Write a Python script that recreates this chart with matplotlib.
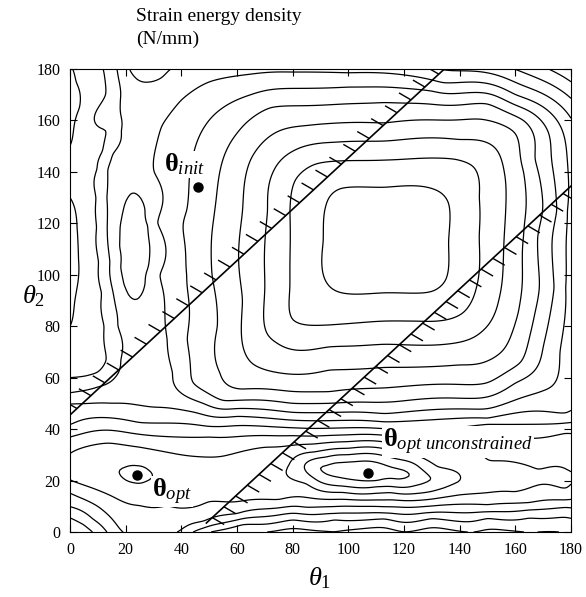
import numpy as np
import matplotlib.pyplot as plt
from matplotlib.collections import LineCollection

plt.rcParams['font.family'] = 'Liberation Serif'
plt.rcParams['mathtext.fontset'] = 'custom'
plt.rcParams['mathtext.rm'] = 'Liberation Serif'
plt.rcParams['mathtext.it'] = 'Liberation Serif:italic'
plt.rcParams['mathtext.bf'] = 'Liberation Serif:bold'

# points, (theta1, theta2); level index given in traces below
ring12 = [(91, 100), (91, 113), (92, 127), (97, 133.5), (113, 134), (130, 133.5), (136, 128),
          (136, 113), (135, 98), (130, 93.5), (113, 93), (96, 93.5)]
ring11 = [(80, 82.4), (79, 95), (79, 125), (81, 137), (88, 143), (113, 144.6), (138, 145),
          (145, 142), (147, 130), (147, 115), (146, 95), (141, 85), (125, 82), (113, 82),
          (93.4, 80.5), (85, 80.5)]
ring10 = [(70.8, 77), (70, 95), (71, 125), (73, 140), (80, 148), (95, 151.5), (113, 152),
          (140, 152.5), (152, 150), (156, 140), (156, 115), (154, 90), (148, 78), (135, 73),
          (113, 73), (93, 72), (74.4, 73.5)]
ring9 = [(63.6, 68), (62, 90), (62, 125), (65, 145), (72, 154), (85, 158), (113, 159),
         (150, 160), (160, 155), (163, 140), (163, 115), (161, 85), (155, 70), (140, 65),
         (113, 64), (93, 63), (68, 64)]
ring8 = [(54, 62), (53, 80), (51, 100), (52, 125), (55, 145), (60, 155), (72, 165), (113, 167),
         (150, 166.5), (163, 160), (167, 145), (168, 115), (167, 85), (162, 66), (150, 58),
         (113, 56), (93, 54.5), (61, 55.5)]
ring7 = [(44, 58), (42, 75), (42, 100), (42, 125), (44, 145), (48, 157), (55, 165), (65, 170),
         (100, 173), (130, 171.5), (160, 166), (172, 155), (175, 125), (174, 95), (170, 72),
         (160, 58), (140, 52), (113, 50.5), (80, 50), (55, 51)]
ring6 = [(37, 62), (35, 75), (34, 88), (32, 100), (31, 120), (30, 140), (33, 158), (40, 168),
         (50, 175), (65, 178), (80, 178.8), (100, 178.5), (134, 174.6), (160, 170), (175, 160),
         (178.6, 125), (178, 95), (176, 70), (170, 55), (150, 48), (113, 46), (80, 46.5),
         (60, 48), (48, 50), (40, 54)]
# two long vertical lines near the left edge
line_a7 = [(12, 180), (13, 170), (14.4, 157), (12, 148), (10, 141), (9.5, 130), (9.7, 118.6),
           (10.5, 105), (11.5, 93), (12.5, 80), (13.3, 67), (10, 62), (5, 60.5), (0, 60)]
line_b6 = [(17, 180), (18, 168), (18, 156), (15, 147), (13.3, 141), (13, 130), (13.3, 118.6),
           (14.5, 105), (15.5, 93), (17, 80), (18, 67), (16, 60), (10, 56.5), (0, 54)]
edge_loops8 = [(0, 80), (2.5, 95), (3, 106), (2.5, 118), (0, 130),
               (0, 150), (3.6, 165), (2, 175), (1, 180)]
ellipse5 = [(17.6, 111), (18, 119), (19.2, 125.5), (21, 130), (23.2, 132), (25.3, 130),
            (27.1, 125.5), (28.3, 119), (28.7, 111), (28.3, 103), (27.1, 96.5), (25.3, 92),
            (23.2, 90), (21, 92), (19.2, 96.5), (18, 103)]
line5 = [(113, 42.8), (80, 43.5), (60, 45), (45, 46.5), (30, 48.5), (15, 50), (0, 50),
         (150, 44), (178, 46),
         (21, 180), (24, 176), (28, 175), (33, 176.5), (36, 180),
         (0, 5.8), (5, 3), (8.3, 0), (50, 0), (62, 3), (80, 4.8), (95, 5.1), (113, 5.3),
         (130, 5.4), (150, 5.5), (165, 5.6), (178, 5.8)]
line4 = [(0, 41.5), (25, 42.5), (50, 41), (80, 40.5), (113, 40.2), (150, 42), (178, 42.4),
         (0, 9.7), (8, 5), (13.3, 0), (44, 0), (55, 3.5), (70, 6), (95, 7.0), (113, 7.3),
         (130, 7.5), (150, 7.8), (165, 8.6), (178, 9.7)]
line3 = [(0, 37), (25, 38), (50, 37), (80, 37.5), (113, 37.6), (150, 39), (178, 38.5),
         (0, 15.2), (10, 10), (18.7, 0), (39, 0), (48, 4), (60, 7), (85, 9.5), (113, 9.8),
         (130, 10.1), (150, 10.5), (165, 11.3), (178, 12.4)]
line2 = [(0, 30.5), (14, 34.6), (25, 33), (40, 30), (55, 29.5), (70, 33), (90, 34.5), (113, 35),
         (135, 31.5), (150, 27.5), (168, 24), (178, 22),
         (0, 20.2), (15, 14), (25, 10.5), (35, 10.5), (50, 12), (75, 12.5), (113, 12.4),
         (140, 14.5), (160, 15.5), (178, 16.5)]
ell1 = [(79, 26), (88, 31), (100, 32.5), (118, 31), (132, 25), (140, 19.5), (132, 16.5),
        (115, 15.5), (98, 15.5), (85, 19),
        (17.5, 23.5), (20, 25), (24, 25.5), (28, 24), (30, 21.5), (27, 19.8), (23, 19.5), (19, 21)]
ell0 = [(84, 26), (92, 29), (100, 30), (115, 29), (126, 24.5), (131, 20.5), (124, 18.2),
        (110, 17.8), (96, 18), (87, 21.5)]
ell_m1 = [(89, 25.5), (95, 27), (100, 27.3), (112, 26.5), (120, 24), (123, 22), (118, 20.3),
          (110, 19.7), (100, 20.5), (92, 22.5)]
# extrema and values in between lines
spot_uv = [(113, 114), (100, 105), (125, 125), (107, 23.3), (24, 22),
           (23.2, 111), (23.2, 100), (23.2, 122),
           (11.5, 160), (11.5, 130), (12, 105), (14.5, 80), (6, 150), (6, 118), (6, 90), (5, 70),
           (0, 105), (0, 165), (0, 140), (15.8, 111), (20, 145), (25, 140), (25, 75), (27, 56),
           (23, 84), (28, 179), (28, 2), (0, 0), (70, 0.5), (95, 0.5), (120, 0.5), (145, 0.5),
           (165, 0.5), (180, 0), (55, 22), (160, 20), (0, 25)]
spot_val = [12.6, 12.5, 12.5, -1.7, 0.5,
            4.6, 4.7, 4.7,
            6.5, 6.5, 6.5, 6.5, 7.6, 7.6, 7.6, 7.5,
            8.3, 8.3, 7.6, 5.5, 5.6, 5.5, 5.6, 5.5,
            5.5, 4.8, 2.5, 5.5, 5.8, 5.85, 5.85, 5.85,
            5.85, 5.85, 1.7, 1.8, 1.6]

traces = [(12, ring12), (11, ring11), (10, ring10), (9, ring9), (8, ring8), (7, ring7),
          (6, ring6), (7, line_a7), (6, line_b6), (8, edge_loops8), (5, ellipse5),
          (5, line5), (4, line4), (3, line3), (2, line2), (1, ell1), (0, ell0), (-1, ell_m1)]
levels = np.arange(-1, 13)

# constraints |theta1 - theta2| <= 45.5
line_offset = [45.5, -45.5]
line_u_start = [0.0, 49.0]
line_u_end = [134.5, 180.0]
hatch_side = [-1, 1]
hatch_step = [5.0, 4.2]

# marked designs
pts_u = [46, 24, 107]
pts_v = [134, 22, 23]
lab_u = [33.8, 29.5, 112.5]
lab_v = [140, 13.6, 33]
lab_txt = [r'$\mathbf{\theta}_{\mathit{init}}$',
           r'$\mathbf{\theta}_{\mathit{opt}}$',
           r'$\mathbf{\theta}_{\mathit{opt\ unconstrained}}$']


def tps_kernel(r2):
    with np.errstate(divide='ignore', invalid='ignore'):
        k = 0.5 * r2 * np.log(r2)
    return np.nan_to_num(k)


# thin plate spline through the read points
xy, z = [], []
for lev, pts in traces:
    xy += pts
    z += [lev] * len(pts)
xy += spot_uv
z += spot_val
xy = np.array(xy, dtype=float) / 180.0
z = np.array(z, dtype=float)
n = len(z)
r2 = ((xy[:, None, :] - xy[None, :, :])**2).sum(-1)
P = np.column_stack([np.ones(n), xy])
M = np.block([[tps_kernel(r2) + 2e-4 * np.eye(n), P], [P.T, np.zeros((3, 3))]])
sol = np.linalg.solve(M, np.concatenate([z, np.zeros(3)]))
wts, aff = sol[:n], sol[n:]

grid = np.linspace(0, 180, 241)
Z = np.empty((grid.size, grid.size))
for i, vv in enumerate(grid):
    g = np.column_stack([grid, np.full(grid.size, vv)]) / 180.0
    gr2 = ((g[:, None, :] - xy[None, :, :])**2).sum(-1)
    Z[i] = tps_kernel(gr2) @ wts + aff[0] + g @ aff[1:]

fig = plt.figure(figsize=(5.86, 5.97), dpi=100)
ax = fig.add_axes([70/586, 65/597, 501/586, 463/597])

ax.contour(grid, grid, Z, levels=levels, colors='black', linewidths=0.9, linestyles='solid')

for off, us, ue, side, step in zip(line_offset, line_u_start, line_u_end, hatch_side, hatch_step):
    uu = np.array([us, ue])
    ax.plot(uu, uu + off, color='black', lw=1.2)
    hu = np.arange(us + step/2, ue, step)
    hv = hu + off
    keep = (hv > 1) & (hv < 179)
    hu, hv = hu[keep], hv[keep]
    segs = [[(a, b), (a + side*4.3, b - side*2.7)] for a, b in zip(hu, hv)]
    ax.add_collection(LineCollection(segs, colors='black', linewidths=1.0))

ax.plot(pts_u, pts_v, 'o', color='black', ms=6.5)
for a, b, t in zip(lab_u, lab_v, lab_txt):
    ax.text(a, b, t, fontsize=19, ha='left', va='baseline',
            bbox=dict(facecolor='white', edgecolor='none', pad=0.5))

ax.set_xlim(0, 180)
ax.set_ylim(0, 180)
ax.set_xticks(range(0, 181, 20))
ax.set_yticks(range(0, 181, 20))
ax.tick_params(direction='in', top=True, right=True, length=5, width=0.8,
               labelsize=11.5, pad=7)

fig.text(136/586, 1 - 8/597, 'Strain energy density\n(N/mm)', fontsize=14,
         ha='left', va='top', linespacing=1.45)
fig.text(320/586, 1 - 578/597, r'$\theta_{\mathit{1}}$', fontsize=19, ha='center', va='center')
fig.text(34/586, 1 - 296/597, r'$\theta_{\mathit{2}}$', fontsize=19, ha='center', va='center')

fig.savefig('out.png', dpi=100)
